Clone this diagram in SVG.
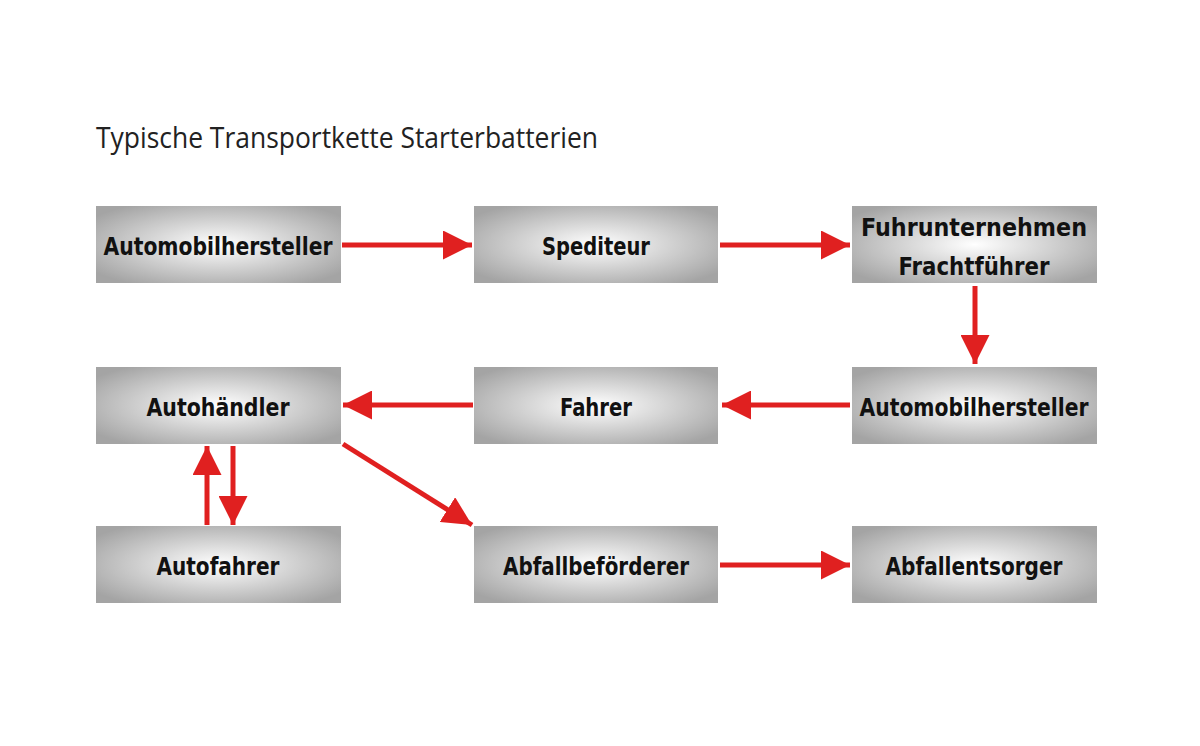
<svg xmlns="http://www.w3.org/2000/svg" width="1200" height="746" viewBox="0 0 1200 746">
<style>
.box{fill:url(#g);}
.lbl{font-family:"DejaVu Sans Condensed","DejaVu Sans",sans-serif;font-weight:bold;font-size:25px;fill:#111;text-anchor:middle;}
.ttl{font-family:"Open Sans","Liberation Sans",sans-serif;font-size:30px;fill:#222;}
.con{stroke:#e02020;stroke-width:5;fill:none;marker-end:url(#ah);}
</style>
<defs>
<radialGradient id="g" cx="0.5" cy="0.5" r="0.62">
<stop offset="0" stop-color="#ffffff"/>
<stop offset="1" stop-color="#a4a4a4"/>
</radialGradient>
<marker id="ah" viewBox="0 0 10 10" refX="10" refY="5" markerWidth="5.8" markerHeight="5.8" orient="auto" markerUnits="strokeWidth">
<path d="M0,0 L10,5 L0,10 z" fill="#e02020"/>
</marker>
</defs>
<rect width="1200" height="746" fill="#fff"/>
<text class="ttl" x="96" y="148" textLength="502" lengthAdjust="spacingAndGlyphs">Typische Transportkette Starterbatterien</text>
<g id="n1"><rect class="box" x="96" y="206" width="245" height="77"/><text class="lbl" x="218" y="255" textLength="229" lengthAdjust="spacingAndGlyphs">Automobilhersteller</text></g>
<g id="n2"><rect class="box" x="474" y="206" width="244" height="77"/><text class="lbl" x="596" y="255" textLength="108" lengthAdjust="spacingAndGlyphs">Spediteur</text></g>
<g id="n3"><rect class="box" x="852" y="206" width="245" height="77"/><text class="lbl" x="974" y="236" textLength="226" lengthAdjust="spacingAndGlyphs">Fuhrunternehmen</text><text class="lbl" x="974" y="275" textLength="151" lengthAdjust="spacingAndGlyphs">Frachtführer</text></g>
<g id="n4"><rect class="box" x="852" y="367" width="245" height="77"/><text class="lbl" x="974" y="416" textLength="229" lengthAdjust="spacingAndGlyphs">Automobilhersteller</text></g>
<g id="n5"><rect class="box" x="474" y="367" width="244" height="77"/><text class="lbl" x="596" y="416" textLength="72" lengthAdjust="spacingAndGlyphs">Fahrer</text></g>
<g id="n6"><rect class="box" x="96" y="367" width="245" height="77"/><text class="lbl" x="218" y="416" textLength="143" lengthAdjust="spacingAndGlyphs">Autohändler</text></g>
<g id="n7"><rect class="box" x="96" y="526" width="245" height="77"/><text class="lbl" x="218" y="575" textLength="123" lengthAdjust="spacingAndGlyphs">Autofahrer</text></g>
<g id="n8"><rect class="box" x="474" y="526" width="244" height="77"/><text class="lbl" x="596" y="575" textLength="186" lengthAdjust="spacingAndGlyphs">Abfallbeförderer</text></g>
<g id="n9"><rect class="box" x="852" y="526" width="245" height="77"/><text class="lbl" x="974" y="575" textLength="177" lengthAdjust="spacingAndGlyphs">Abfallentsorger</text></g>
<g id="connectors">
<line class="con" x1="342" y1="245" x2="472" y2="245"/>
<line class="con" x1="720" y1="245" x2="850" y2="245"/>
<line class="con" x1="975" y1="286" x2="975" y2="364"/>
<line class="con" x1="850" y1="405" x2="722" y2="405"/>
<line class="con" x1="473" y1="405" x2="343" y2="405"/>
<line class="con" x1="207" y1="525" x2="207" y2="446"/>
<line class="con" x1="233" y1="446" x2="233" y2="525"/>
<line class="con" x1="343" y1="444" x2="472" y2="525"/>
<line class="con" x1="720" y1="565" x2="850" y2="565"/>
</g>
</svg>
